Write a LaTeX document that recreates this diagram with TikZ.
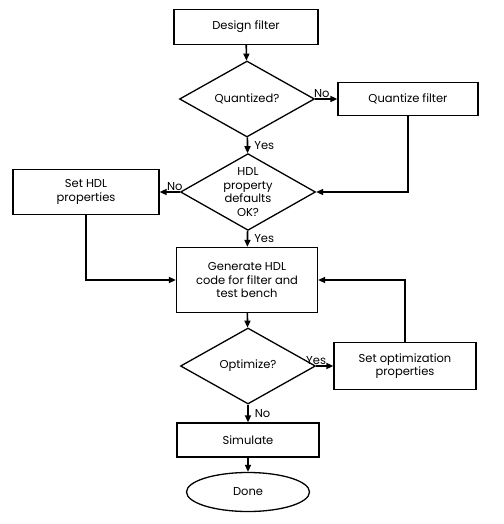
\documentclass[tikz,border=0pt]{standalone}
\usepackage{fontspec}
\setmainfont{Poppins}
\usetikzlibrary{shapes}
\usetikzlibrary{arrows.meta}

\begin{document}
\begin{tikzpicture}[x=1pt, y=-1pt,
  every node/.style={font=\fontsize{11.5}{13.5}\selectfont, align=center},
  procbox/.style={draw, line width=1.3pt, rectangle, inner sep=0pt},
  decision/.style={draw, line width=1.3pt, diamond, aspect=1.75, inner sep=0pt, minimum width=135pt, minimum height=76pt},
  term/.style={draw, line width=1.3pt, ellipse, inner sep=0pt, minimum width=123pt, minimum height=39pt},
  flow/.style={line width=1.6pt, -{Triangle[length=7pt,width=6pt]}},
  answer/.style={font=\fontsize{11.5}{13}\selectfont, inner sep=1pt}]
\useasboundingbox (0,0) rectangle (503,524);
\node[procbox, minimum width=144pt, minimum height=35pt] (DFilt) at (246,27) {Design filter};
\node[decision] (QChk) at (247,99) {Quantized?};
\node[procbox, minimum width=140pt, minimum height=33pt] (QFilt) at (408,99) {Quantize filter};
\node[decision] (HChk) at (248,192) {HDL\\property\\defaults\\OK?};
\node[procbox, minimum width=146pt, minimum height=45pt] (HSet) at (86,192) {Set HDL\\properties};
\node[procbox, minimum width=141pt, minimum height=65pt] (Gen) at (247,280) {Generate HDL\\code for filter and\\test bench};
\node[decision] (OChk) at (248,366) {Optimize?};
\node[procbox, minimum width=142pt, minimum height=47pt] (OSet) at (405,366) {Set optimization\\properties};
\node[procbox, minimum width=142pt, minimum height=34pt] (Sim) at (248,440) {Simulate};
\node[term] (Done) at (248,492) {Done};

\draw[flow] (DFilt) -- (QChk);
\draw[flow] (QChk) -- node[answer, above, pos=0.3] {No} (QFilt);
\draw[flow] (QChk) -- node[answer, right=5pt] {Yes} (HChk);
\draw[flow] (QFilt.south) |- (HChk.east);
\draw[flow] (HChk) -- node[answer, above, pos=0.25] {No} (HSet);
\draw[flow] (HChk) -- node[answer, right=5pt] {Yes} (Gen);
\draw[flow] (HSet.south) |- (Gen.west);
\draw[flow] (Gen) -- (OChk);
\draw[flow] (OChk) -- node[answer, above, pos=0] {Yes} (OSet);
\draw[flow] (OSet.north) |- (Gen.east);
\draw[flow] (OChk) -- node[answer, right=5pt] {No} (Sim);
\draw[flow] (Sim) -- (Done);
\end{tikzpicture}
\end{document}
